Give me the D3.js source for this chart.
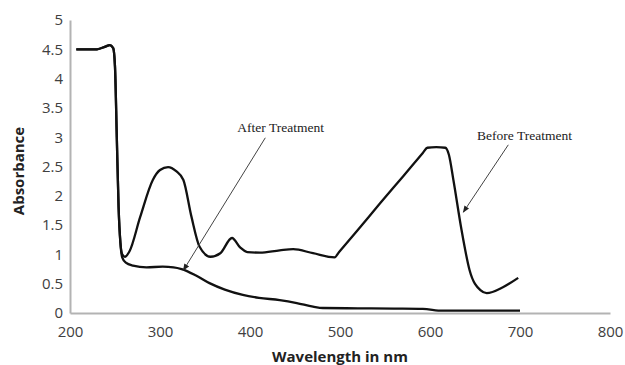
<!DOCTYPE html>
<html>
<head>
<meta charset="utf-8">
<script src="https://cdn.jsdelivr.net/npm/d3@7"></script>
<style>
body { margin:0; background:#fff; }
.tick text { font-family:"Open Sans", sans-serif; font-size:15px; fill:#404040; }
.axisTitle { font-family:"Open Sans", sans-serif; font-size:15px; font-weight:bold; fill:#222; }
.note { font-family:"Liberation Serif", serif; font-size:13.5px; fill:#222; }
</style>
</head>
<body>
<div id="chart"></div>
<script>
var svgWidth = 625;
var svgHeight = 365;
var margin = {top:20, right:15, bottom:52, left:70};
var width = svgWidth - margin.left - margin.right;
var height = svgHeight - margin.top - margin.bottom;

// wavelength (nm) / absorbance
var beforeX = [207,230,240,244,248,250,252,254,256,258,261,266,278,292,300,309,318,326,335,344,356,367,380,389,397,411,433,448,470,494,499,520,545,570,592,597,607,617,621,626,635,644,656,663,681,698];
var beforeY = [4.5,4.5,4.55,4.57,4.52,4.2,3.0,1.8,1.2,1.0,0.96,1.05,1.64,2.27,2.44,2.49,2.42,2.27,1.64,1.13,0.96,1.02,1.28,1.12,1.04,1.03,1.07,1.09,1.02,0.95,1.04,1.42,1.88,2.33,2.73,2.82,2.83,2.82,2.7,2.27,1.42,0.73,0.39,0.34,0.44,0.6];
var afterX = [207,230,240,244,248,250,252,254,256,258,262,270,285,303,315,324,340,355,372,392,410,433,452,470,481,520,560,592,614,650,700];
var afterY = [4.5,4.5,4.55,4.57,4.52,4.2,3.0,1.8,1.2,0.95,0.86,0.81,0.78,0.79,0.78,0.75,0.64,0.51,0.4,0.31,0.26,0.22,0.17,0.11,0.085,0.08,0.075,0.07,0.04,0.04,0.04];
var xTicks = [200,300,400,500,600,700,800];
var yTicks = [0,0.5,1,1.5,2,2.5,3,3.5,4,4.5,5];

var svg = d3.select("#chart").append("svg")
    .attr("width", svgWidth)
    .attr("height", svgHeight);
var chart = svg.append("g")
    .attr("transform", "translate(" + margin.left + "," + margin.top + ")");

var xScale = d3.scaleLinear().domain([200,800]).range([0,width]);
var yScale = d3.scaleLinear().domain([0,5]).range([height,0]);

var xAxis = chart.append("g")
    .attr("transform", "translate(0," + height + ")")
    .call(d3.axisBottom(xScale).tickValues(xTicks).tickSize(0).tickPadding(10));
var yAxis = chart.append("g")
    .call(d3.axisLeft(yScale).tickValues(yTicks).tickSize(0).tickPadding(7).tickFormat(d3.format("")));
xAxis.select(".domain").attr("stroke", "#b3b3b3").attr("stroke-width", 2);
yAxis.select(".domain").attr("stroke", "#b3b3b3").attr("stroke-width", 2);
xAxis.selectAll(".tick text").attr("dy", "0.9em");

var line = d3.line()
    .x(function(d){ return xScale(d[0]); })
    .y(function(d){ return yScale(d[1]); })
    .curve(d3.curveMonotoneX);

var series = [d3.zip(afterX, afterY), d3.zip(beforeX, beforeY)];
chart.selectAll(".series")
    .data(series)
    .enter()
    .append("path")
    .attr("class", "series")
    .attr("d", line)
    .attr("fill", "none")
    .attr("stroke", "#111")
    .attr("stroke-width", 2.3)
    .attr("stroke-linejoin", "round");

// annotations with arrows
svg.append("defs").append("marker")
    .attr("id", "arrow")
    .attr("viewBox", "0 0 10 10")
    .attr("refX", 9).attr("refY", 5)
    .attr("markerWidth", 7).attr("markerHeight", 7)
    .attr("orient", "auto")
    .append("path")
    .attr("d", "M0,1 L10,5 L0,9 Z")
    .attr("fill", "#222");

var notes = [
  {text:"After Treatment", tx:[434,3.09], from:[417,2.99], to:[326,0.73]},
  {text:"Before Treatment", tx:[705,2.95], from:[687,2.87], to:[637,1.72]}
];
notes.forEach(function(n){
  chart.append("text")
    .attr("class", "note")
    .attr("x", xScale(n.tx[0]))
    .attr("y", yScale(n.tx[1]))
    .attr("text-anchor", "middle")
    .text(n.text);
  chart.append("line")
    .attr("x1", xScale(n.from[0])).attr("y1", yScale(n.from[1]))
    .attr("x2", xScale(n.to[0])).attr("y2", yScale(n.to[1]))
    .attr("stroke", "#444")
    .attr("stroke-width", 1)
    .attr("marker-end", "url(#arrow)");
});

chart.append("text")
  .attr("class", "axisTitle")
  .attr("transform", "rotate(-90)")
  .attr("x", -151)
  .attr("y", -margin.left + 24)
  .attr("text-anchor", "middle")
  .text("Absorbance");

chart.append("text")
  .attr("class", "axisTitle")
  .attr("x", xScale(500))
  .attr("y", height + 49)
  .attr("text-anchor", "middle")
  .text("Wavelength in nm");
</script>
</body>
</html>
